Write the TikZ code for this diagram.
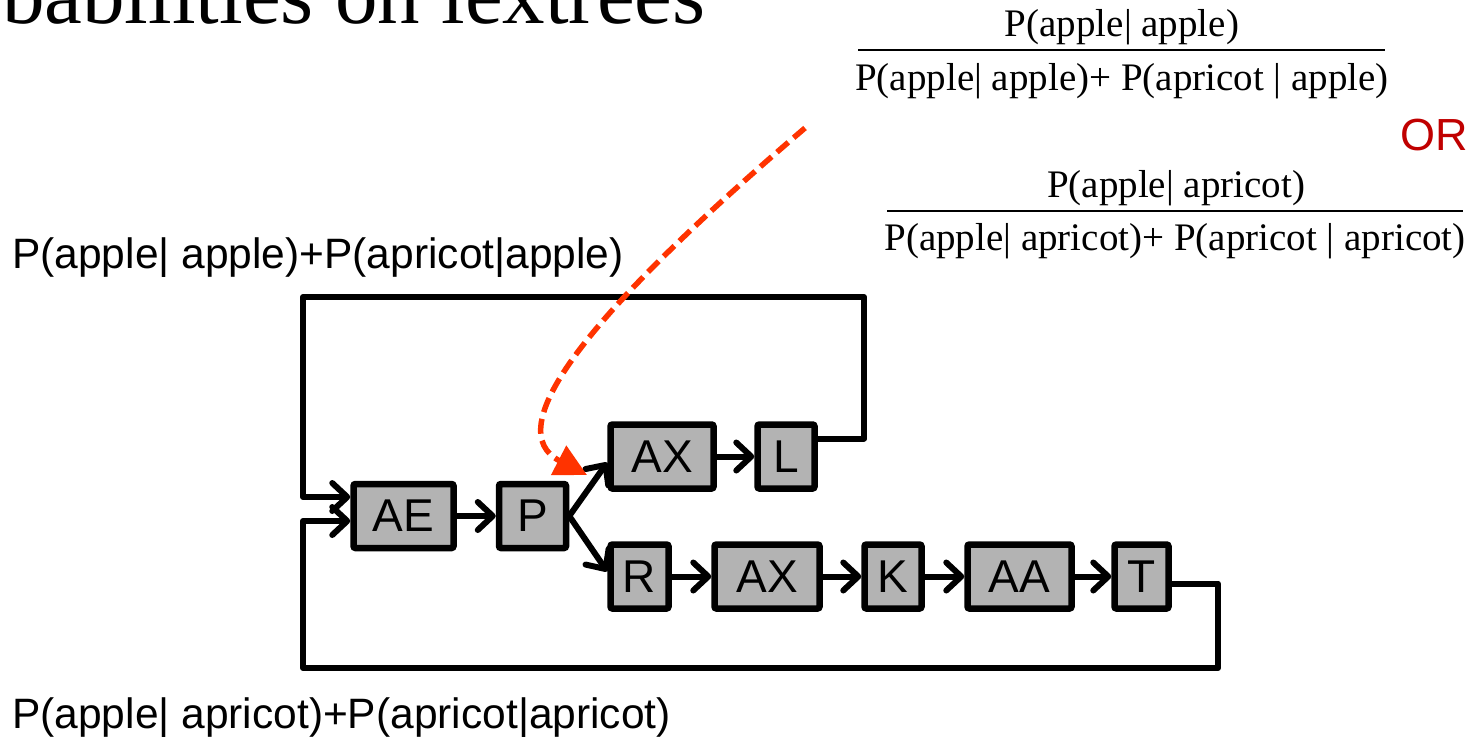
\documentclass[tikz,border=0pt]{standalone}
\usepackage{fontspec}
\setmainfont{Liberation Serif}
\newfontfamily\arialf{Liberation Sans}
\usetikzlibrary{arrows.meta,calc}
\definecolor{boxgray}{RGB}{179,179,179}
\definecolor{redarrow}{RGB}{255,51,0}
\definecolor{orred}{RGB}{192,0,0}
\begin{document}
\begin{tikzpicture}[x=1pt,y=-1pt,
  phone/.style={draw=black, fill=boxgray, line width=6.5pt, rounded corners=2pt,
    minimum height=64pt, inner sep=0pt, font=\arialf\fontsize{46}{46}\selectfont},
  link/.style={line width=6pt, line join=round,
    -{Straight Barb[length=15pt,width=28pt,line cap=round,line join=round]}},
  lbl/.style={inner sep=0pt, anchor=base west},
  frac/.style={inner sep=0pt, anchor=base, font=\fontsize{39}{39}\selectfont},
  sans/.style={font=\arialf\fontsize{42.5}{42.5}\selectfont}]
\useasboundingbox (0,0) rectangle (1474,741);

% title (clipped by page)
\node[lbl, font=\fontsize{85}{85}\selectfont] (title) at (2,24) {babilities on lextrees};

% fractions
\node[frac] (n1) at (1122,37) {P(apple| apple)};
\coordinate (f1l) at (858,50); \coordinate (f1r) at (1385,50);
\draw[line width=2pt] (f1l) -- (f1r);
\node[frac] (d1) at (1122,91) {P(apple| apple)+ P(apricot | apple)};
\node[lbl, text=orred, font=\arialf\fontsize{45}{45}\selectfont] (or) at (1400,150) {OR};
\node[frac] (n2) at (1176,197) {P(apple| apricot)};
\coordinate (f2l) at (887,211); \coordinate (f2r) at (1463,211);
\draw[line width=2pt] (f2l) -- (f2r);
\node[frac] (d2) at (1175,250) {P(apple| apricot)+ P(apricot | apricot)};

% side labels
\node[lbl, sans] (t1) at (12,268) {P(apple| apple)+P(apricot|apple)};
\node[lbl, sans] (t2) at (12,728) {P(apple| apricot)+P(apricot|apricot)};

% phone boxes
\node[phone, minimum width=100pt] (AE) at (403.5,516) {AE};
\node[phone, minimum width=67pt] (P) at (532.5,516) {P};
\node[phone, minimum width=103pt] (AX1) at (662,456.5) {AX};
\node[phone, minimum width=57pt] (L) at (786,456.5) {L};
\node[phone, minimum width=58pt] (R) at (639.5,576.5) {R};
\node[phone, minimum width=105pt] (AX2) at (767,576.5) {AX};
\node[phone, minimum width=57pt] (K) at (893,576.5) {K};
\node[phone, minimum width=104pt] (AA) at (1019.5,576.5) {AA};
\node[phone, minimum width=54pt] (T) at (1141.5,576.5) {T};

% arrows
\draw[link] (AE) -- (P);
\draw[link] (P.east) -- ($(AX1.west)+(0,6)$);
\draw[link] (P.east) -- ($(R.west)+(0,-5)$);
\draw[link] (AX1) -- (L);
\draw[link] (R) -- (AX2);
\draw[link] (AX2) -- (K);
\draw[link] (K) -- (AA);
\draw[link] (AA) -- (T);

% loops
\coordinate (tr) at (864,297); \coordinate (tl) at (303,297);
\draw[link] ($(L.east)+(0,-18)$) -| (tr) -| (tl) |- ($(AE.west)+(0,-19)$);
\coordinate (br) at (1218,668); \coordinate (bl) at (303,668);
\draw[link] ($(T.east)+(0,7)$) -| (br) -| (bl) |- ($(AE.west)+(0,5)$);

% red dashed arrow
\coordinate (rs) at (805,128); \coordinate (rt) at (587,475);
\draw[redarrow, line width=5.5pt, dash pattern=on 15pt off 7pt,
  -{Triangle[length=32pt,width=32pt]}] (rs) .. controls (580,320) and (500,430) .. (rt);
\end{tikzpicture}
\end{document}
